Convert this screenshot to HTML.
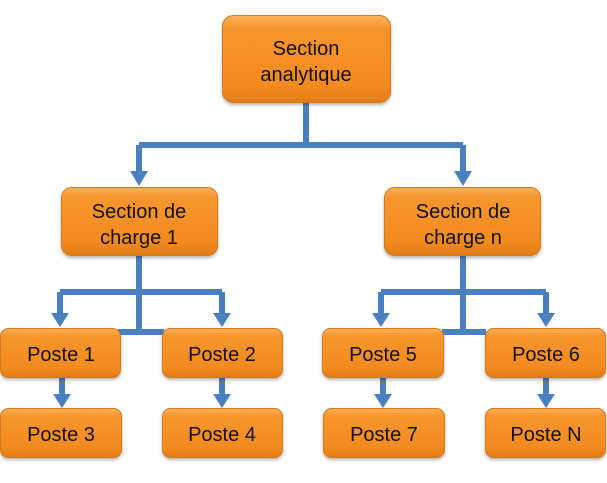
<!DOCTYPE html>
<html><head><meta charset="utf-8"><style>
html,body{margin:0;padding:0;background:#fff;width:607px;height:483px;overflow:hidden}
text{font-family:"Liberation Sans",Arial,sans-serif;font-size:20px;fill:#111;text-anchor:middle}
</style></head><body>
<svg width="607" height="483" viewBox="0 0 607 483" xmlns="http://www.w3.org/2000/svg">
<defs>
<linearGradient id="g" x1="0" y1="0" x2="0" y2="1">
<stop offset="0" stop-color="#fbb35a"/>
<stop offset="0.15" stop-color="#f7962e"/>
<stop offset="0.8" stop-color="#f28a1f"/>
<stop offset="1" stop-color="#e07c18"/>
</linearGradient>
<filter id="s" x="-10%" y="-10%" width="120%" height="130%"><feDropShadow dx="0" dy="2" stdDeviation="1.5" flood-color="#000" flood-opacity="0.3"/></filter>
</defs>
<g stroke="#4a7fc1" stroke-width="6" fill="none">
<path d="M306 103V145M139 145H463M139 145V172M463 145V172"/>
<path d="M139 256V332M60 292H222M60 292V314M222 292V314M118 332H164"/>
<path d="M463 256V332M381 292H546M381 292V314M546 292V314M442 332H486"/>
<path d="M62 378V395M222 378V395M383 378V395M546 378V395"/>
</g>
<g fill="#4a7fc1">
<path d="M130 171H148L139 186Z"/><path d="M454 171H472L463 186Z"/>
<path d="M51 313H69L60 327Z"/><path d="M213 313H231L222 327Z"/>
<path d="M372 313H390L381 327Z"/><path d="M537 313H555L546 327Z"/>
<path d="M53 394H71L62 408Z"/><path d="M213 394H231L222 408Z"/>
<path d="M374 394H392L383 408Z"/><path d="M537 394H555L546 408Z"/>
</g>
<g fill="url(#g)" stroke="#d47a1e" stroke-width="1" filter="url(#s)">
<rect x="222.5" y="15.5" width="168" height="87" rx="11"/>
<rect x="61.5" y="187.5" width="156" height="68" rx="10"/>
<rect x="384.5" y="187.5" width="156" height="68" rx="10"/>
<rect x="0.5" y="328.5" width="120" height="49" rx="8"/>
<rect x="162.5" y="328.5" width="120" height="49" rx="8"/>
<rect x="322.5" y="328.5" width="121" height="49" rx="8"/>
<rect x="485.5" y="328.5" width="120" height="49" rx="8"/>
<rect x="0.5" y="408.5" width="121" height="49" rx="8"/>
<rect x="162.5" y="408.5" width="120" height="49" rx="8"/>
<rect x="323.5" y="408.5" width="121" height="49" rx="8"/>
<rect x="485.5" y="408.5" width="120" height="49" rx="8"/>
</g>
<text x="306" y="55">Section</text><text x="306" y="81">analytique</text>
<text x="139" y="218">Section de</text><text x="139" y="244">charge 1</text>
<text x="463" y="218">Section de</text><text x="463" y="244">charge n</text>
<text x="61" y="361">Poste 1</text><text x="222" y="361">Poste 2</text>
<text x="383" y="361">Poste 5</text><text x="546" y="361">Poste 6</text>
<text x="61" y="441">Poste 3</text><text x="222" y="441">Poste 4</text>
<text x="384" y="441">Poste 7</text><text x="546" y="441">Poste N</text>
</svg>
</body></html>
